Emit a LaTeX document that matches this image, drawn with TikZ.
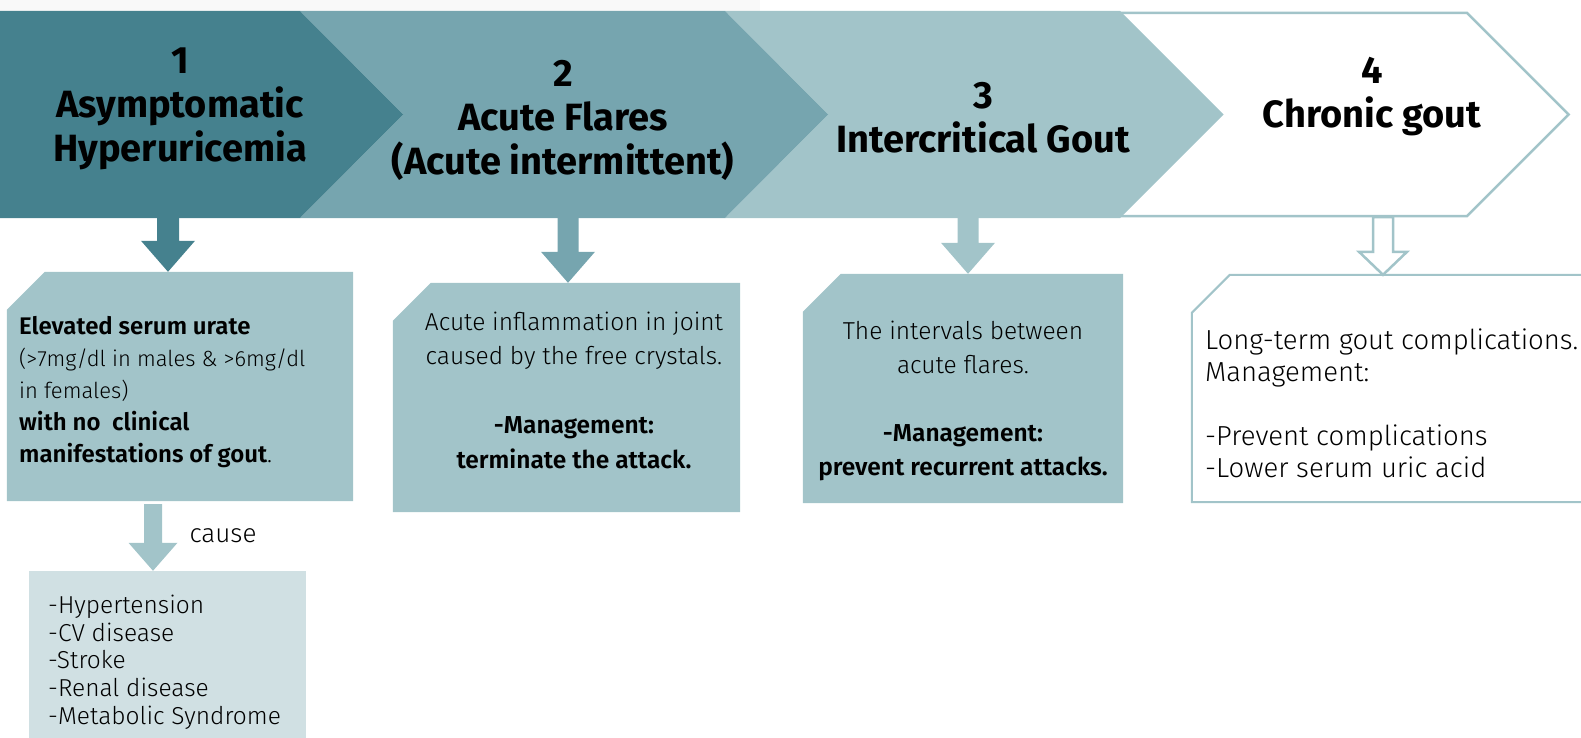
\documentclass[tikz,border=0pt]{standalone}
\usepackage{fontspec}
\setmainfont{Fira Sans}[UprightFont={* Light}]
\newfontfamily\stagefont{Fira Sans}
\usetikzlibrary{calc}

\definecolor{goutdark}{HTML}{45818E}
\definecolor{goutmid}{HTML}{76A5AF}
\definecolor{goutlight}{HTML}{A2C4C9}
\definecolor{goutpale}{HTML}{D0E0E3}

% block arrow pointing down: [style]{from}{to}{half shaft}{half head}{head length}
\newcommand{\downblock}[6][]{%
  \path[#1] let \p1=(#2), \p2=(#3) in
    (\x2-#4pt,\y1) -- (\x2+#4pt,\y1) -- (\x2+#4pt,\y2+#6pt) -- (\x2+#5pt,\y2+#6pt)
    -- (\x2,\y2) -- (\x2-#5pt,\y2+#6pt) -- (\x2-#4pt,\y2+#6pt) -- cycle;}

\tikzset{
  stage/.style={align=center, inner sep=0pt, font=\stagefont\fontsize{38}{44}\selectfont\bfseries},
  card/.style={inner sep=0pt, minimum width=#1},
  chamfer/.style={insert path={(#1.south west) -- ([yshift=-38pt]#1.north west)
      -- ([xshift=38pt]#1.north west) -- (#1.north east) -- (#1.south east) -- cycle}},
  cardtext/.style={inner sep=0pt, font=\fontsize{24.5}{34.5}\selectfont},
}

\begin{document}
\begin{tikzpicture}[x=1pt,y=-1pt]
\useasboundingbox (0,0) rectangle (1581,738);
\clip (0,0) rectangle (1581,738);
\fill[gray!5] (0,0) rectangle (760,11);

% the four stages
\draw[goutlight, line width=2.5pt, fill=white] (1120,13) -- (1467,13) -- (1568.5,114.5) -- (1467,216) -- (1120,216);
\fill[goutlight] (725,11) -- (1120,11) -- (1223.5,114.5) -- (1120,218) -- (725,218) -- (828,114.5) -- cycle;
\fill[goutmid] (300,11) -- (725,11) -- (828,114.5) -- (725,218) -- (300,218) -- (403,114.5) -- cycle;
\fill[goutdark] (0,11) -- (300,11) -- (403,114.5) -- (300,218) -- (0,218) -- cycle;
\coordinate (bandbottom) at (0,218);

\node[stage] (t1) at (180,109) {1\\Asymptomatic\\Hyperuricemia};
\node[stage] (t2) at (563,120) {2\\Acute Flares\\(Acute intermittent)};
\node[stage] (t3) at (983,118) {3\\Intercritical Gout};
\node[stage] (t4) at (1372,97) {4\\Chronic gout};

% cards under the stages
\node[card=346, minimum height=229] (b1) at (180,386.5) {};
\node[card=347, minimum height=229] (b2) at (566.5,397.5) {};
\node[card=320, minimum height=229] (b3) at (963,388.5) {};
\node[card=420, minimum height=227] (b4) at (1402,388.5) {};
\node[card=277, minimum height=189] (b5) at (167.5,665.5) {};

\fill[goutlight] [chamfer=b1];
\fill[goutlight] [chamfer=b2];
\fill[goutlight] [chamfer=b3];
\draw[goutlight, line width=2pt, fill=white] [chamfer=b4];
\fill[goutpale] (b5.south west) rectangle (b5.north east);

\downblock[fill=goutdark]{bandbottom}{[xshift=-12pt]b1.north}{11}{27}{31}
\downblock[fill=goutmid]{bandbottom}{[xshift=1.5pt]b2.north}{10.5}{27}{31}
\downblock[fill=goutlight]{bandbottom}{[xshift=5pt]b3.north}{10.5}{27}{31}
\downblock[draw=goutlight, line width=2.5pt, fill=white]{[yshift=1pt]bandbottom}{[xshift=-19pt]b4.north}{10}{24}{23}
\downblock[fill=goutlight]{[yshift=-3pt]b1.south}{[xshift=-14.5pt]b5.north}{9}{24.5}{28}

\node[anchor=west, font=\fontsize{26}{28}\selectfont] (cs) at (186,536) {cause};

\node[cardtext, anchor=west, align=left, font=\fontsize{24}{32}\selectfont] (x1) at (19,392) {%
  \textbf{Elevated serum urate}\\
  {\fontsize{22}{32}\selectfont (>7mg/dl in males \& >6mg/dl}\\
  {\fontsize{22}{32}\selectfont in females)}\\
  \textbf{with no\ \ clinical}\\
  \textbf{manifestations of gout}.};
\node[cardtext, align=center] (x2) at (574,390) {%
  Acute inflammation in joint\\
  caused by the free crystals.\\[34.5pt]
  \textbf{-Management:}\\
  \textbf{terminate the attack.}};
\node[cardtext, align=center, font=\fontsize{24.5}{34}\selectfont] (x3) at (963,401) {%
  The intervals between\\
  acute flares.\\[34pt]
  \textbf{-Management:}\\
  \textbf{prevent recurrent attacks.}};
\node[cardtext, anchor=west, align=left, font=\fontsize{27.5}{32}\selectfont] (x4) at (1205,403) {%
  Long-term gout complications.\\
  Management:\\[32pt]
  -Prevent complications\\
  -Lower serum uric acid};
\node[cardtext, anchor=west, align=left, font=\fontsize{24.5}{27.7}\selectfont] (x5) at (48,662) {%
  -Hypertension\\
  -CV disease\\
  -Stroke\\
  -Renal disease\\
  -Metabolic Syndrome};
\end{tikzpicture}
\end{document}
